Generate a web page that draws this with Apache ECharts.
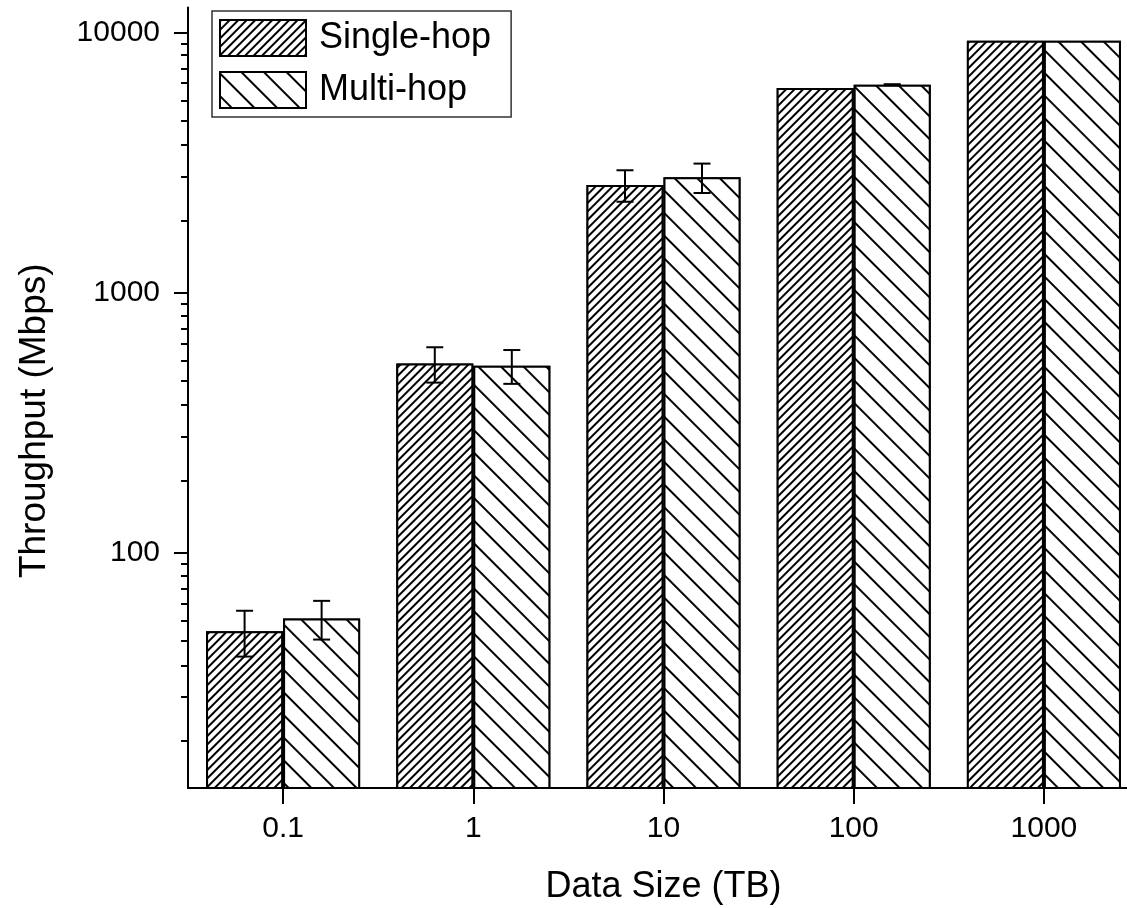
<!DOCTYPE html>
<html>
<head>
<meta charset="utf-8">
<script src="https://cdn.jsdelivr.net/npm/echarts@6/dist/echarts.min.js"></script>
<style>
html,body{margin:0;padding:0;background:#fff;}
#chart{width:1127px;height:908px;}
</style>
</head>
<body>
<div id="chart"></div>
<script>
// ---- data ----
const categories = ['0.1', '1', '10', '100', '1000'];
const seriesNames = ['Single-hop', 'Multi-hop'];
const singleHop = [50, 535, 2600, 6130, 9320];
const singleHopErr = [10, 83, 360, 0, 0];
const multiHop = [56, 525, 2780, 6310, 9320];
const multiHopErr = [9.5, 78, 360, 30, 0];
const yTickValues = [100, 1000, 10000];

const FONT = '"Liberation Sans", Arial, Helvetica, sans-serif';
const GAP = 0.19;

function errData(vals, errs) {
  const out = [];
  vals.forEach(function (v, i) {
    if (errs[i] > 0) out.push([i, v - errs[i], v + errs[i]]);
  });
  return out;
}

function errRender(side) {
  return function (params, api) {
    const x = api.value(0), lo = api.value(1), hi = api.value(2);
    const band = api.size([1, 0], [x, lo])[0];
    const barW = band * (1 - GAP) / 2;
    const pLo = api.coord([x, lo]);
    const pHi = api.coord([x, hi]);
    const cx = pLo[0] + side * barW / 2;
    const cap = 8.5;
    const st = { stroke: '#000', lineWidth: 2 };
    return {
      type: 'group',
      children: [
        { type: 'line', shape: { x1: cx, y1: pLo[1], x2: cx, y2: pHi[1] }, style: st },
        { type: 'line', shape: { x1: cx - cap, y1: pHi[1], x2: cx + cap, y2: pHi[1] }, style: st },
        { type: 'line', shape: { x1: cx - cap, y1: pLo[1], x2: cx + cap, y2: pLo[1] }, style: st }
      ]
    };
  };
}

const chart = echarts.init(document.getElementById('chart'), null, { renderer: 'canvas' });

const option = {
  animation: false,
  backgroundColor: '#fff',
  textStyle: { fontFamily: FONT, color: '#000' },
  grid: { left: 188, width: 951, top: 7.5, bottom: 120, containLabel: false, outerBoundsMode: 'none' },
  legend: {
    orient: 'vertical',
    left: 212,
    top: 11,
    padding: [8, 20, 8, 7],
    itemWidth: 86,
    itemHeight: 36,
    itemGap: 14,
    icon: 'rect',
    selectedMode: false,
    borderColor: '#333',
    borderWidth: 1.5,
    backgroundColor: '#fff',
    textStyle: { fontSize: 36, color: '#000', fontFamily: FONT, padding: [0, 0, 0, 8] },
    data: seriesNames
  },
  xAxis: {
    type: 'category',
    data: categories,
    axisLine: { show: true, lineStyle: { color: '#000', width: 2 } },
    axisTick: { show: true, alignWithLabel: true, length: 16, lineStyle: { color: '#000', width: 2 } },
    axisLabel: { fontSize: 30, color: '#000', margin: 26, fontFamily: FONT },
    splitLine: { show: false },
    name: 'Data Size (TB)',
    nameLocation: 'middle',
    nameGap: 81,
    nameTextStyle: { fontSize: 36, color: '#000', fontFamily: FONT }
  },
  yAxis: {
    type: 'log',
    logBase: 10,
    min: 12.5,
    max: 12500,
    axisLine: { show: true, lineStyle: { color: '#000', width: 2 } },
    axisTick: { show: true, inside: false, length: 14, customValues: yTickValues, lineStyle: { color: '#000', width: 2 } },
    minorTick: { show: true, splitNumber: 10, length: 7, lineStyle: { color: '#000', width: 2 } },
    axisLabel: {
      customValues: yTickValues,
      formatter: function (v) { return String(Math.round(v)); },
      fontSize: 30, color: '#000', margin: 28, fontFamily: FONT
    },
    splitLine: { show: false },
    minorSplitLine: { show: false },
    name: 'Throughput (Mbps)',
    nameLocation: 'middle',
    nameGap: 135,
    nameTextStyle: { fontSize: 37, color: '#000', fontFamily: FONT, padding: [0, 46, 0, 0] }
  },
  series: [
    {
      name: seriesNames[0],
      type: 'bar',
      data: singleHop,
      barGap: '0%',
      barCategoryGap: '19%',
      clip: true,
      itemStyle: {
        color: '#fff',
        borderColor: '#000',
        borderWidth: 2,
        decal: {
          symbol: 'rect', symbolSize: 1, color: '#000', backgroundColor: '#fff',
          dashArrayX: [1, 0], dashArrayY: [2, 4], rotation: -Math.PI / 4
        }
      },
      emphasis: { disabled: true }
    },
    {
      name: seriesNames[1],
      type: 'bar',
      data: multiHop,
      barGap: '0%',
      barCategoryGap: '19%',
      clip: true,
      itemStyle: {
        color: '#fff',
        borderColor: '#000',
        borderWidth: 2,
        decal: {
          symbol: 'rect', symbolSize: 1, color: '#000', backgroundColor: '#fff',
          dashArrayX: [1, 0], dashArrayY: [2, 14], rotation: Math.PI / 4
        }
      },
      emphasis: { disabled: true }
    },
    {
      name: 'errSingle',
      type: 'custom',
      renderItem: errRender(-1),
      data: errData(singleHop, singleHopErr),
      encode: { x: 0, y: [1, 2] },
      z: 10,
      silent: true
    },
    {
      name: 'errMulti',
      type: 'custom',
      renderItem: errRender(1),
      data: errData(multiHop, multiHopErr),
      encode: { x: 0, y: [1, 2] },
      z: 10,
      silent: true
    }
  ]
};

chart.setOption(option);
</script>
</body>
</html>
